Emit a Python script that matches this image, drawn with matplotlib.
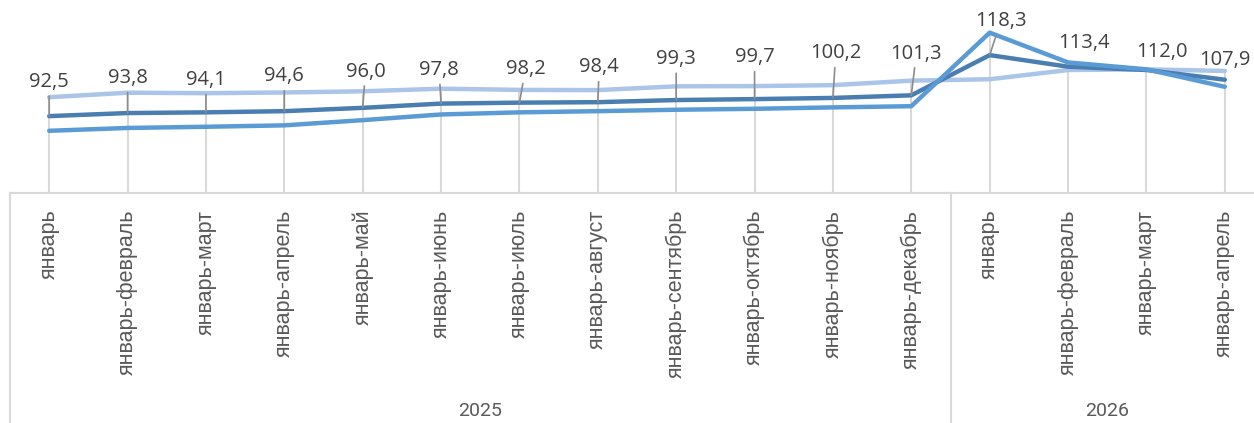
import matplotlib.pyplot as plt
from matplotlib.lines import Line2D

# Categories (cumulative periods) and years
periods = ['январь', 'январь-февраль', 'январь-март', 'январь-апрель', 'январь-май',
           'январь-июнь', 'январь-июль', 'январь-август', 'январь-сентябрь',
           'январь-октябрь', 'январь-ноябрь', 'январь-декабрь',
           'январь', 'январь-февраль', 'январь-март', 'январь-апрель']
years = ['2025', '2026']
year_sizes = [12, 4]

# Series values
series_main = [92.5, 93.8, 94.1, 94.6, 96.0, 97.8, 98.2, 98.4, 99.3, 99.7,
               100.2, 101.3, 118.3, 113.4, 112.0, 107.9]
series_light = [100.5, 102.4, 102.2, 102.5, 103.0, 104.1, 103.6, 103.5, 105.1,
                105.2, 105.6, 107.5, 108.1, 112.0, 112.3, 111.6]
series_mid = [86.3, 87.5, 88.0, 88.6, 90.8, 93.2, 94.1, 94.6, 95.2, 95.6,
              96.2, 96.7, 127.8, 115.2, 112.3, 104.9]

# label offsets in points (dx, dy) from point to label centre
label_offsets = [(0, 24.5), (0, 25), (0, 23), (0, 25), (2, 26), (-1.4, 24), (4.3, 24),
                 (1, 25), (0, 29.5), (0, 30), (2, 32), (3.6, 30), (8, 24.5), (11.5, 17),
                 (11.5, 13), (0, 14.4)]

c_light = '#aac5e8'
c_dark = '#4a7eb1'
c_mid = '#5b9bd5'
grid_c = '#d9d9d9'

fig = plt.figure(figsize=(12.54, 4.23), dpi=100)
ax = fig.add_axes([10 / 1254, 230 / 423, 1254 / 1254, 193 / 423])

x = list(range(len(periods)))
ax.set_xlim(-0.5, len(periods) - 0.5)
ax.set_ylim(60, 141.6)

# drop lines
tops = [max(a, b, c) for a, b, c in zip(series_main, series_light, series_mid)]
ax.vlines(x, 60, tops, color=grid_c, lw=1.5, zorder=1)

ax.plot(x, series_light, color=c_light, lw=3.2, solid_capstyle='round', zorder=3)
ax.plot(x, series_main, color=c_dark, lw=3.2, solid_capstyle='round', zorder=4)
ax.plot(x, series_mid, color=c_mid, lw=3.2, solid_capstyle='round', zorder=5)

for i, (v, off) in enumerate(zip(series_main, label_offsets)):
    lbl = f'{v:.1f}'.replace('.', ',')
    props = None
    if i < 13:
        props = dict(arrowstyle='-', color='#8c8c8c', lw=1.2, shrinkA=1, shrinkB=0)
    ax.annotate(lbl, xy=(i, v), xytext=off, textcoords='offset points',
                ha='center', va='center', fontsize=14.5, color='#404040',
                family=['Open Sans', 'DejaVu Sans'], arrowprops=props, zorder=6)

for s in ['top', 'right', 'left']:
    ax.spines[s].set_visible(False)
ax.spines['bottom'].set_color(grid_c)
ax.spines['bottom'].set_linewidth(1.5)
ax.set_yticks([])
ax.set_xticks(x)
ax.set_xticklabels(periods, rotation=90, va='top', ha='center', fontsize=15.5,
                   color='#595959', family=['Liberation Sans', 'DejaVu Sans'])
ax.tick_params(axis='x', length=0, pad=12)

# year group frame below axis
tr = ax.get_xaxis_transform()
bounds = [-0.5]
for n in year_sizes:
    bounds.append(bounds[-1] + n)
for b in bounds[:-1]:
    ax.add_line(Line2D([b, b], [0, -1.3], transform=tr, color=grid_c, lw=1.5, clip_on=False))
for i, yr in enumerate(years):
    mid = (bounds[i] + bounds[i + 1]) / 2
    ax.text(mid, -1.13, yr, transform=tr, ha='center', va='center', fontsize=14,
            color='#595959', family=['Roboto', 'DejaVu Sans'])

fig.savefig('out.png', dpi=100)
